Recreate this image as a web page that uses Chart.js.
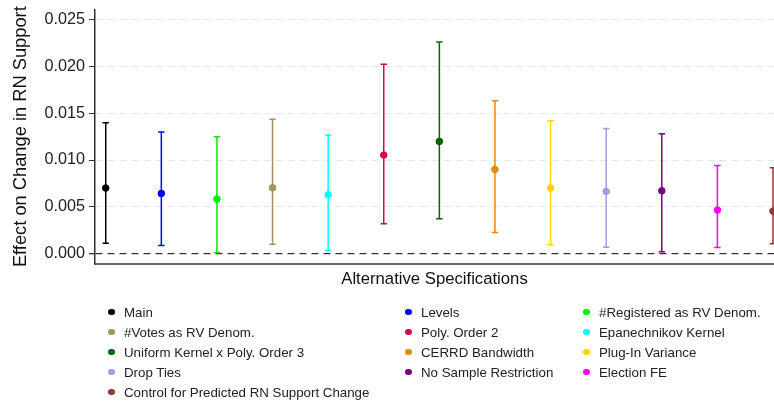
<!DOCTYPE html>
<html lang="en">

<head>
    <meta charset="UTF-8">
    <script src="https://cdn.jsdelivr.net/npm/chart.js"></script>
    <title>Alternative Specifications</title>
    <style>
        body { margin: 0; background: #fff; overflow: hidden; }
        .wrap { position: relative; width: 774px; height: 408px; }
        canvas { display: block; }
        .legenda {
            position: absolute; left: 108px; top: 302px;
            display: grid; grid-template-columns: 297px 178px auto;
            font-family: 'Liberation Sans', Arial, sans-serif; font-size: 13.3px; color: #222;
        }
        .item { display: flex; align-items: center; height: 20px; white-space: nowrap; }
        .bola { width: 6.5px; height: 6.5px; border-radius: 50%; margin-right: 9.5px; }
    </style>
</head>

<body>
    <div class="wrap">
        <canvas id="grafico" width="774" height="408"></canvas>
        <div class="legenda" id="legenda"></div>
    </div>
</body>

</html>

<script>
    var specs = ['Main', 'Levels', '#Registered as RV Denom.', '#Votes as RV Denom.', 'Poly. Order 2',
        'Epanechnikov Kernel', 'Uniform Kernel x Poly. Order 3', 'CERRD Bandwidth', 'Plug-In Variance',
        'Drop Ties', 'No Sample Restriction', 'Election FE', 'Control for Predicted RN Support Change']
    // ordem no grafico (posicao no eixo x) de cada especificacao
    var posicao = [1, 2, 3, 4, 6, 5, 7, 8, 9, 10, 11, 12, 13]
    var cores = ['#000000', '#0000ff', '#00ee00', '#a89060', '#d0103c', '#00ffff', '#006400', '#e8870e',
        '#ffd200', '#9f9fdf', '#800080', '#ff00ff', '#943a3a']
    var estimativa = [0.00700, 0.00642, 0.00582, 0.00703, 0.01053, 0.00628, 0.01199, 0.00899, 0.00700,
        0.00664, 0.00671, 0.00464, 0.00453]
    var inferior = [0.00110, 0.00086, 0.00010, 0.00100, 0.00318, 0.00032, 0.00371, 0.00225, 0.00093,
        0.00068, 0.00018, 0.00064, 0.00104]
    var superior = [0.01400, 0.01300, 0.01250, 0.01435, 0.02024, 0.01267, 0.02263, 0.01635, 0.01420,
        0.01338, 0.01281, 0.00942, 0.00917]
    var yTicks = [0, 0.005, 0.010, 0.015, 0.020, 0.025]

    var fonte = "'Liberation Sans', Arial, sans-serif"

    var datasets = specs.map(function (nome, i) {
        var x = posicao[i]
        return {
            label: nome,
            data: [{ x: x, y: inferior[i] }, { x: x, y: estimativa[i] }, { x: x, y: superior[i] }],
            showLine: true,
            borderColor: cores[i],
            backgroundColor: cores[i],
            borderWidth: 1.5,
            pointStyle: ['line', 'circle', 'line'],
            pointRadius: [3.2, 3.3, 3.2],
            pointBorderWidth: [1.5, 1, 1.5],
            pointBackgroundColor: cores[i],
            pointBorderColor: cores[i]
        }
    })

    function semPadding(s) {
        s.paddingTop = 0
        s.paddingBottom = 0
        s.paddingLeft = 0
        s.paddingRight = 0
    }

    const graph = new Chart(grafico, {
        type: 'scatter',
        data: { datasets: datasets },
        options: {
            responsive: false,
            animation: false,
            events: [],
            layout: { autoPadding: false, padding: { top: 9.8, right: 0, left: 0, bottom: 117.5 } },
            plugins: { legend: { display: false }, tooltip: { enabled: false } },
            scales: {
                x: {
                    type: 'linear', min: 0.807, max: 13.018,
                    ticks: { display: false },
                    grid: { display: false },
                    border: { display: true, color: '#666', width: 2 },
                    title: {
                        display: true, text: 'Alternative Specifications', color: '#111',
                        font: { family: fonte, size: 16.7 }, padding: { top: 0, bottom: 0.8 }
                    },
                    afterFit: function (s) { s.height = 27; semPadding(s) }
                },
                y: {
                    min: -0.00107, max: 0.02607,
                    afterBuildTicks: function (s) { s.ticks = yTicks.map(function (v) { return { value: v } }) },
                    ticks: {
                        color: '#222', padding: 4, font: { family: fonte, size: 16.2 },
                        callback: function (v) { return v.toFixed(3) }
                    },
                    grid: {
                        color: function (c) { return c.tick && c.tick.value === 0 ? '#333' : '#e6e6e6' },
                        lineWidth: function (c) { return c.tick && c.tick.value === 0 ? 1.3 : 1 },
                        tickColor: '#333', tickLength: 6
                    },
                    border: { display: true, color: '#333', width: 1.5, dash: [7, 5] },
                    title: {
                        display: true, text: 'Effect on Change in RN Support', color: '#111',
                        font: { family: fonte, size: 18.3 }, padding: { top: 10, bottom: 0 }
                    },
                    afterFit: function (s) { s.width = 95; semPadding(s) }
                }
            }
        }
    });

    // legenda em 3 colunas, mesma ordem das especificacoes
    var legenda = document.getElementById('legenda')
    specs.forEach(function (nome, i) {
        var item = document.createElement('div')
        item.className = 'item'
        var bola = document.createElement('span')
        bola.className = 'bola'
        bola.style.background = cores[i]
        item.appendChild(bola)
        item.appendChild(document.createTextNode(nome))
        legenda.appendChild(item)
    })
</script>
